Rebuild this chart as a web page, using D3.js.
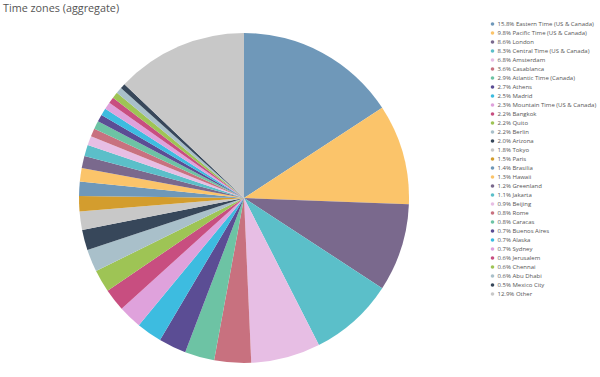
<!DOCTYPE html>
<html>
<head>
    <title>Time zones (aggregate)</title>
    <script src="https://d3js.org/d3.v7.min.js"></script>
    <style>
        body { margin: 0; background: #fff; }
        text { font-family: "Open Sans", sans-serif; }
    </style>
</head>
<body>
<script>
// Slice labels and shares (%), in legend order
const zones = ["Eastern Time (US & Canada)", "Pacific Time (US & Canada)", "London",
    "Central Time (US & Canada)", "Amsterdam", "Casablanca", "Atlantic Time (Canada)",
    "Athens", "Madrid", "Mountain Time (US & Canada)", "Bangkok", "Quito", "Berlin",
    "Arizona", "Tokyo", "Paris", "Brasilia", "Hawaii", "Greenland", "Jakarta", "Beijing",
    "Rome", "Caracas", "Buenos Aires", "Alaska", "Sydney", "Jerusalem", "Chennai",
    "Abu Dhabi", "Mexico City", "Other"];
const shares = [15.8, 9.8, 8.6, 8.3, 6.8, 3.6, 2.9, 2.7, 2.5, 2.3, 2.2, 2.2, 2.2,
    2.0, 1.8, 1.5, 1.4, 1.3, 1.2, 1.1, 0.9, 0.8, 0.8, 0.7, 0.7, 0.7, 0.6, 0.6,
    0.6, 0.5, 12.9];
const palette = ["#6f98b9", "#fbc46a", "#7a698d", "#5bbfc9", "#e7bee4", "#c8717f",
    "#6dc3a4", "#5b4d94", "#3dbce0", "#dfa2dc", "#c84e80", "#9ec455", "#a9c0ca",
    "#37475a", "#c8c8c8", "#d39d2e"];

const data = zones.map((z, i) => ({zone: z, share: shares[i]}));

const width = 600, height = 377;
const svg = d3.select("body").append("svg")
    .attr("width", width)
    .attr("height", height);

// Title
svg.append("text")
    .attr("x", 3)
    .attr("y", 12)
    .attr("font-size", 10.8)
    .attr("fill", "#555")
    .text("Time zones (aggregate)");

const color = d3.scaleOrdinal()
    .domain(d3.range(zones.length))
    .range(d3.range(zones.length).map(i => palette[i % palette.length]));

// Pie
const pie = d3.pie().sort(null).value(d => d.share);
const arc = d3.arc().innerRadius(0).outerRadius(165);

const g = svg.append("g")
    .attr("transform", "translate(244,198)");

g.selectAll("path")
    .data(pie(data))
    .join("path")
    .attr("d", arc)
    .attr("fill", (d, i) => color(i));

// Legend
const y = d3.scaleBand()
    .domain(d3.range(zones.length))
    .range([19.5, 19.5 + 9 * zones.length]);

const legend = svg.append("g");
const rows = legend.selectAll("g")
    .data(data)
    .join("g")
    .attr("transform", (d, i) => `translate(492.5,${y(i) + y.bandwidth() / 2})`);

rows.append("circle")
    .attr("r", 1.8)
    .attr("fill", (d, i) => color(i));

rows.append("text")
    .attr("x", 5)
    .attr("dy", "0.35em")
    .attr("font-size", 6.0)
    .attr("fill", "#555")
    .text(d => `${d.share.toFixed(1)}% ${d.zone}`);
</script>
</body>
</html>
